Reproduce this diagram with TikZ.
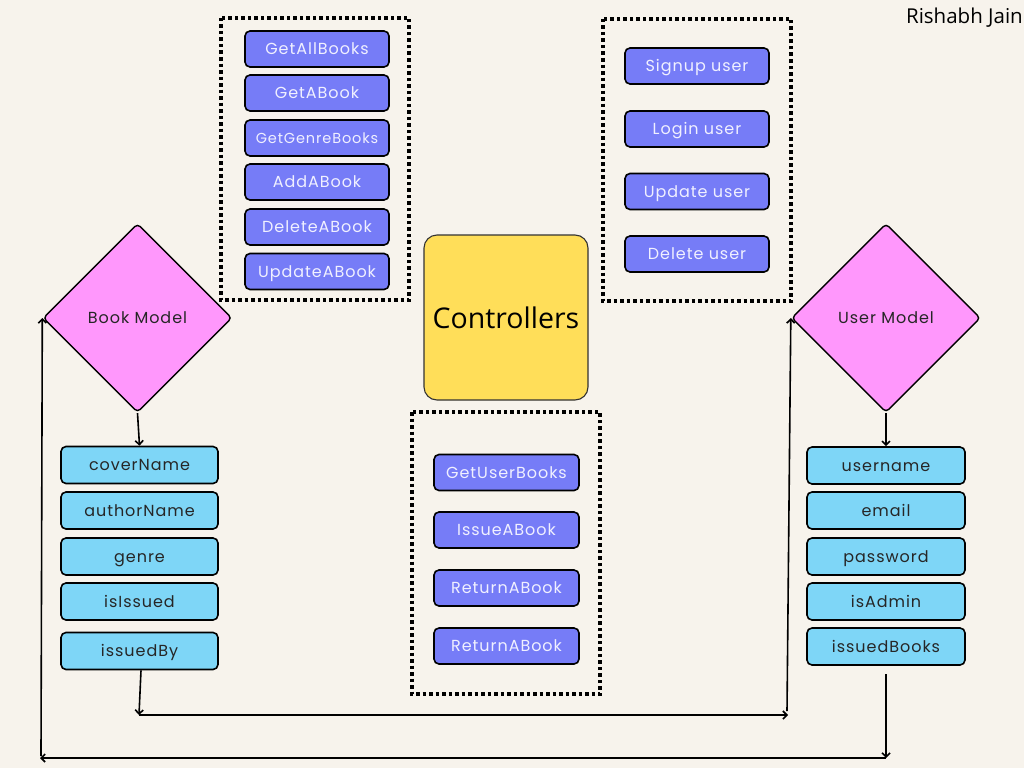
\documentclass[tikz,border=0pt]{standalone}
\usepackage{fontspec}
\setmainfont{Poppins}
\newfontfamily\lblfont[LetterSpace=6]{Poppins}
\newfontfamily\ctrlfont{Open Sans}
\usetikzlibrary{shapes.geometric,arrows.meta}
\definecolor{bg}{RGB}{247,243,236}
\definecolor{btnfill}{RGB}{118,124,247}
\definecolor{attrfill}{RGB}{126,214,247}
\definecolor{modelfill}{RGB}{255,151,252}
\definecolor{ctrlfill}{RGB}{255,222,89}
\definecolor{btntext}{RGB}{240,240,255}
\tikzset{
  btn/.style={rectangle, rounded corners=5pt, fill=btnfill, draw=black, line width=1.6pt,
    minimum width=144pt, minimum height=36pt, text=btntext, inner sep=0pt,
    text height=15pt, text depth=3.2pt,
    font=\lblfont\fontsize{16}{18}\selectfont},
  attr/.style={rectangle, rounded corners=5pt, fill=attrfill, draw=black, line width=1.6pt,
    minimum width=157pt, minimum height=37pt, text=black!85, inner sep=0pt,
    text height=15pt, text depth=3.2pt,
    font=\lblfont\fontsize{16}{18}\selectfont},
  model/.style={diamond, aspect=1, fill=modelfill, draw=black, line width=1.4pt,
    rounded corners=4pt, minimum width=189pt, minimum height=189pt, inner sep=0pt,
    text height=15pt, text depth=3.2pt,
    font=\lblfont\fontsize{16}{18}\selectfont, text=black!85},
  ctrl/.style={rectangle, rounded corners=13pt, fill=ctrlfill, draw=black!80, line width=1.1pt,
    minimum width=164pt, minimum height=165pt, inner sep=0pt,
    font=\ctrlfont\fontsize{28.5}{32}\selectfont},
  dotbox/.style={draw=black, line width=3.5pt, dash pattern=on 3.5pt off 3pt},
  conn/.style={draw=black, line width=1.6pt, -{Straight Barb[length=4pt,width=8pt]}}
}
\begin{document}
\begin{tikzpicture}[x=1pt,y=-1pt]
\useasboundingbox[fill=bg] (0,0) rectangle (1024,768);

% dotted groups
\draw[dotbox] (221,18) rectangle (409,300);
\draw[dotbox] (603,19) rectangle (791,301);
\draw[dotbox] (412,412) rectangle (600,694);

% book controllers
\node[btn] (gab) at (317,49) {GetAllBooks};
\node[btn] (gb) at (317,93) {GetABook};
\node[btn, font=\lblfont\fontsize{14.5}{17}\selectfont] (ggb) at (317,138) {GetGenreBooks};
\node[btn] (aab) at (317,182) {AddABook};
\node[btn] (dab) at (317,227) {DeleteABook};
\node[btn] (uab) at (317,271.5) {UpdateABook};

% user controllers
\node[btn] (su) at (697,66) {Signup user};
\node[btn] (lu) at (697,129) {Login user};
\node[btn] (uu) at (697,191.5) {Update user};
\node[btn] (du) at (697,254) {Delete user};

% issue controllers
\node[btn, minimum width=145pt] (gub) at (506.5,472.5) {GetUserBooks};
\node[btn, minimum width=145pt] (iab) at (506.5,530) {IssueABook};
\node[btn, minimum width=145pt] (rab1) at (506.5,588) {ReturnABook};
\node[btn, minimum width=145pt] (rab2) at (506.5,646) {ReturnABook};

% controllers
\node[ctrl] (ctrl) at (506,317.5) {Controllers};

% models
\node[model] (bm) at (137.5,318) {Book Model};
\node[model] (um) at (886,318) {User Model};

% book attributes
\node[attr] (cn) at (139.5,465) {coverName};
\node[attr] (an) at (139.5,510.5) {authorName};
\node[attr] (ge) at (139.5,556.5) {genre};
\node[attr] (ii) at (139.5,601.5) {isIssued};
\node[attr] (ib) at (139.5,651) {issuedBy};

% user attributes
\node[attr, minimum width=158pt] (un) at (886,465.5) {username};
\node[attr, minimum width=158pt] (em) at (886,510.5) {email};
\node[attr, minimum width=158pt] (pw) at (886,556.5) {password};
\node[attr, minimum width=158pt] (ia) at (886,601.5) {isAdmin};
\node[attr, minimum width=158pt] (ibs) at (886,646.5) {issuedBooks};

% author
\node[anchor=east, inner sep=0pt, font=\ctrlfont\fontsize{20.5}{22}\selectfont] (auth) at (1023,18) {Rishabh Jain};

% connectors
\draw[conn] (bm.south) -- (cn.north);
\draw[conn] (um.south) -- (un.north);

\coordinate (p1) at (139,715);
\coordinate (p2) at (788,715);
\coordinate (p3) at (787,711);
\draw[conn] (ib.south -| 141,0) -- (p1);
\draw[conn] (p1) -- (p2);
\draw[conn] (p3) -- (um.west);

\coordinate (q0) at (886,674);
\coordinate (q1) at (886,758);
\coordinate (q2) at (40,758);
\coordinate (q3) at (41,756);
\draw[conn] (q0) -- (q1);
\draw[conn] (q1) -- (q2);
\draw[conn] (q3) -- (bm.west);
\end{tikzpicture}
\end{document}
